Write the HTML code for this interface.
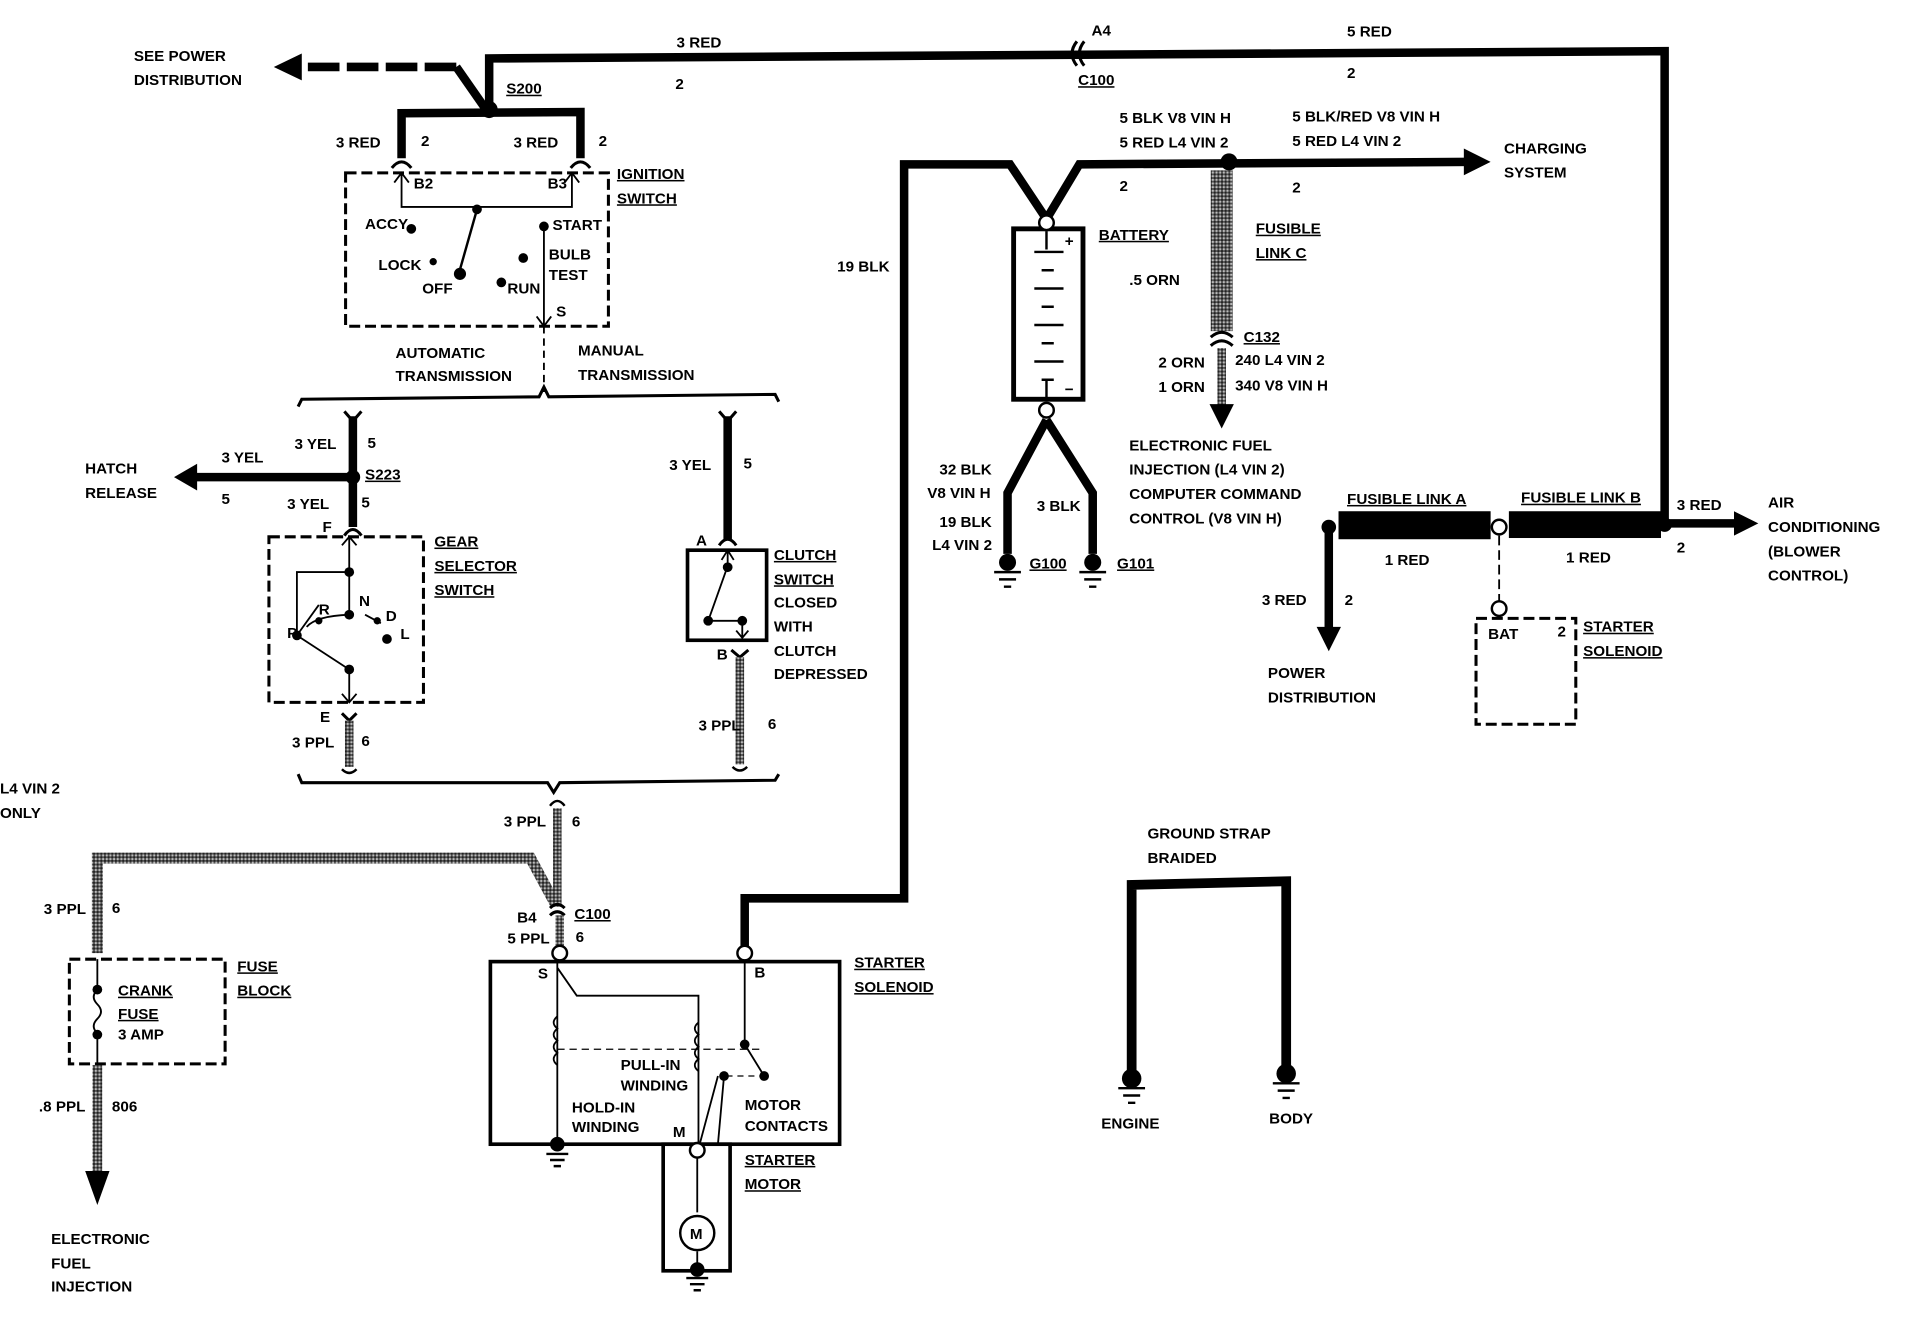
<!DOCTYPE html>
<html><head><meta charset="utf-8"><style>
html,body{margin:0;padding:0;background:#fff;}
svg{display:block;}
text{font-family:"Liberation Sans",sans-serif;font-weight:bold;font-size:12.5px;fill:#000;}
.u{text-decoration:underline;}
</style></head><body>
<svg width="1908" height="1328" viewBox="0 0 1568 1091" preserveAspectRatio="none" xmlns="http://www.w3.org/2000/svg">
<defs>
<pattern id="br" width="3" height="3" patternUnits="userSpaceOnUse"><rect width="3" height="3" fill="#555"/><rect width="1.5" height="1.5" fill="#bbb"/><rect x="1.5" y="1.5" width="1.5" height="1.5" fill="#222"/></pattern>
</defs>
<g fill="none" stroke="#000">
<path d="M402,90 L402,48 L1368,42 L1368,432" stroke-width="7"/>
<path d="M885,34 q-8,10 0,20 M891,34 q-8,10 0,20" stroke-width="2.5"/>
<path d="M398,88 L375,55" stroke-width="7"/>
<path d="M375,55 L245,55" stroke-width="7" stroke-dasharray="26,6"/>
<path d="M330,130 L330,93 L477,92 L477,130" stroke-width="7"/>
<path d="M322,138 q8,-10 16,0 M469,138 q8,-10 16,0" stroke-width="2.5"/>
<rect x="284" y="142" width="216" height="126" stroke-width="2.5" stroke-dasharray="9,4"/>
<path d="M330,142 L330,170 L470,170 L470,142 M324,150 L330,142 L336,150 M464,150 L470,142 L476,150" stroke-width="1.5"/>
<path d="M392,172 L377,225" stroke-width="2"/>
<path d="M447,186 L447,268 M441,260 L447,268 L453,260" stroke-width="1.5"/>
<path d="M447,268 L447,322" stroke-width="1.5" stroke-dasharray="6,4"/>
<path d="M245,334 L248,328 L443,326 L447,318 L451,326 L637,324 L640,330" stroke-width="2.5"/>
<path d="M290,342 L290,433" stroke-width="7"/>
<path d="M283,338 l7,8 l7,-8 M283,440 q7,-10 14,0" stroke-width="2.5"/>
<path d="M290,392 L160,392" stroke-width="7"/>
<rect x="221" y="441" width="127" height="136" stroke-width="2.5" stroke-dasharray="9,4"/>
<path d="M287,441 L287,470 M281,448 L287,441 L293,448 M287,470 L244,470 L244,520 M287,470 L287,505 M287,550 L287,577 M281,570 L287,577 L293,570 M244,522 L287,550 M244,522 L262,497 M300,505 L313,512 M287,505 Q260,506 252,515" stroke-width="1.5"/>
<path d="M281,586 l6,6 l6,-6" stroke-width="2.5"/>
<path d="M598,342 L598,443" stroke-width="7"/>
<path d="M591,338 l7,8 l7,-8 M591,448 q7,-10 14,0" stroke-width="2.5"/>
<rect x="565" y="452" width="65" height="74" stroke-width="3"/>
<path d="M598,452 L598,465 M593,460 L598,452 L603,460 M598,465 L582,510 M582,510 L610,510 M610,510 L610,524 M605,518 L610,524 L615,518" stroke-width="1.5"/>
<path d="M601,534 l7,6 l7,-6" stroke-width="2.5"/>
<path d="M245,636 L248,643 L450,643 L455,651 L460,643 L637,641 L640,636" stroke-width="2.5"/>
<path d="M80,783 L80,705 L436,705 L456,742" stroke-width="9" stroke="url(#br)"/>
<path d="M458,664 L458,745" stroke-width="7" stroke="url(#br)"/>
<path d="M452,662 q6,-8 12,0" stroke-width="2"/>
<path d="M452,746 q6,-6 12,0 M452,752 q6,-6 12,0" stroke-width="2.5"/>
<path d="M460,752 L460,778" stroke-width="7" stroke="url(#br)"/>
<path d="M287,592 L287,630" stroke-width="7" stroke="url(#br)"/>
<path d="M281,632 q6,6 12,0" stroke-width="2"/>
<path d="M608,540 L608,628" stroke-width="7" stroke="url(#br)"/>
<path d="M602,630 q6,6 12,0" stroke-width="2"/>
<rect x="57" y="788" width="128" height="86" stroke-width="2.5" stroke-dasharray="9,4"/>
<path d="M80,788 L80,813 M80,850 L80,874 M80,813 q-6,6 0,12 q6,6 0,12 q-6,6 0,12" stroke-width="1.5"/>
<path d="M80,875 L80,962" stroke-width="8" stroke="url(#br)"/>
<rect x="403" y="790" width="287" height="150" stroke-width="3"/>
<path d="M458,790 L458,940 M458,795 L474,818 L574,818 L574,940" stroke-width="1.5"/>
<path d="M612,790 L612,858 M612,858 L628,884 M595,884 L590,940 M590,884 L575,940" stroke-width="1.5"/>
<path d="M458,862 L628,862" stroke-width="1" stroke-dasharray="6,4"/>
<path d="M597,884 L628,884" stroke-width="1" stroke-dasharray="5,4"/>
<path d="M458,835 q-6,5 0,10 q-6,5 0,10 q-6,5 0,10 q-6,5 0,10" stroke-width="1.5"/>
<path d="M574,840 q-6,5 0,10 q-6,5 0,10 q-6,5 0,10 q-6,5 0,10" stroke-width="1.5"/>
<rect x="545" y="940" width="55" height="104" stroke-width="3"/>
<path d="M573,950 L573,996 M573,1028 L573,1040" stroke-width="1.5"/>
<circle cx="573" cy="1013" r="14" stroke-width="2"/>
<path d="M612,780 L612,738 L743,738 L743,135 L830,135 L860,180 L887,135 L1208,133" stroke-width="7"/>
<rect x="833" y="188" width="57" height="140" stroke-width="4"/>
<path d="M860,190 L860,205 M850,207 L874,207 M856,222 L866,222 M850,237 L874,237 M856,252 L866,252 M850,267 L874,267 M856,282 L866,282 M850,297 L874,297 M856,312 L866,312 M860,312 L860,328" stroke-width="2"/>
<path d="M860,345 L828,405 L828,455 M860,345 L898,405 L898,455" stroke-width="7"/>
<path d="M1004,140 L1004,272" stroke-width="18" stroke="url(#br)"/>
<path d="M1004,286 L1004,336" stroke-width="7" stroke="url(#br)"/>
<path d="M995,277 q9,-8 18,0 M995,284 q9,-8 18,0" stroke-width="2.5"/>
<path d="M1092,433 L1092,520" stroke-width="7"/>
<path d="M1232,440 L1232,495" stroke-width="1.5" stroke-dasharray="8,4"/>
<rect x="1213" y="508" width="82" height="87" stroke-width="2.5" stroke-dasharray="9,4"/>
<path d="M1368,430 L1428,430" stroke-width="7"/>
<path d="M930,880 L930,727 L1057,724 L1057,877" stroke-width="8"/>
</g>
<g fill="#000" stroke="none">
<polygon points="225,55 248,44 248,66"/>
<polygon points="143,392 162,381 162,403"/>
<polygon points="1225,133 1203,122 1203,144"/>
<polygon points="1004,352 994,332 1014,332"/>
<polygon points="1092,535 1082,515 1102,515"/>
<polygon points="1445,430 1425,420 1425,440"/>
<polygon points="80,990 70,962 90,962"/>
<rect x="1100" y="420" width="125" height="23"/>
<rect x="1240" y="420" width="125" height="22"/>
<circle cx="402" cy="90" r="7"/>
<circle cx="290" cy="392" r="6"/>
<circle cx="1010" cy="133" r="7"/>
<circle cx="1092" cy="433" r="6"/>
<circle cx="1368" cy="431" r="6"/>
<circle cx="392" cy="172" r="4"/><circle cx="338" cy="188" r="4"/><circle cx="447" cy="186" r="4"/><circle cx="378" cy="225" r="5"/><circle cx="356" cy="215" r="3"/><circle cx="430" cy="212" r="4"/><circle cx="412" cy="232" r="4"/>
<circle cx="287" cy="470" r="4"/><circle cx="287" cy="505" r="4"/><circle cx="244" cy="522" r="4"/><circle cx="287" cy="550" r="4"/><circle cx="262" cy="510" r="3"/><circle cx="310" cy="510" r="3"/><circle cx="318" cy="525" r="4"/>
<circle cx="598" cy="466" r="4"/><circle cx="582" cy="510" r="4"/><circle cx="610" cy="510" r="4"/>
<circle cx="80" cy="813" r="4"/><circle cx="80" cy="850" r="4"/>
<circle cx="612" cy="858" r="4"/><circle cx="628" cy="884" r="4"/><circle cx="595" cy="884" r="4"/>
<circle cx="458" cy="940" r="6"/><circle cx="573" cy="1043" r="6"/>
<circle cx="828" cy="462" r="7"/><circle cx="898" cy="462" r="7"/>
<circle cx="930" cy="886" r="8"/><circle cx="1057" cy="882" r="8"/>
</g>
<g fill="#fff" stroke="#000" stroke-width="2">
<circle cx="860" cy="183" r="6"/><circle cx="860" cy="337" r="6"/>
<circle cx="460" cy="783" r="6"/><circle cx="612" cy="783" r="6"/><circle cx="573" cy="945" r="6"/>
<circle cx="1232" cy="433" r="6"/><circle cx="1232" cy="500" r="6"/>
</g>
<g stroke="#000" stroke-width="2">
<path d="M449,948 h18 M452,953 h12 M455,958 h6"/>
<path d="M564,1050 h18 M567,1055 h12 M570,1060 h6"/>
<path d="M817,470 h22 M821,476 h14 M825,482 h6"/>
<path d="M887,470 h22 M891,476 h14 M895,482 h6"/>
<path d="M919,894 h22 M923,900 h14 M927,906 h6"/>
<path d="M1046,890 h22 M1050,896 h14 M1054,902 h6"/>
</g>
<text x="110" y="50">SEE POWER</text>
<text x="110" y="70">DISTRIBUTION</text>
<text x="556" y="39">3 RED</text>
<text x="555" y="73">2</text>
<text x="897" y="29">A4</text>
<text x="886" y="70" class="u">C100</text>
<text x="1107" y="30">5 RED</text>
<text x="1107" y="64">2</text>
<text x="416" y="77" class="u">S200</text>
<text x="276" y="121">3 RED</text><text x="346" y="120">2</text>
<text x="422" y="121">3 RED</text><text x="492" y="120">2</text>
<text x="507" y="147" class="u">IGNITION</text>
<text x="507" y="167" class="u">SWITCH</text>
<text x="340" y="155" font-size="10">B2</text><text x="450" y="155" font-size="10">B3</text>
<text x="300" y="188" font-size="11">ACCY</text>
<text x="454" y="189" font-size="11">START</text>
<text x="311" y="222" font-size="11">LOCK</text>
<text x="347" y="241" font-size="11">OFF</text>
<text x="417" y="241" font-size="11">RUN</text>
<text x="451" y="213" font-size="11">BULB</text>
<text x="451" y="230" font-size="11">TEST</text>
<text x="457" y="260" font-size="10">S</text>
<text x="325" y="294">AUTOMATIC</text>
<text x="325" y="313">TRANSMISSION</text>
<text x="475" y="292">MANUAL</text>
<text x="475" y="312">TRANSMISSION</text>
<text x="242" y="369">3 YEL</text><text x="302" y="368">5</text>
<text x="182" y="380">3 YEL</text>
<text x="70" y="389">HATCH</text>
<text x="70" y="409">RELEASE</text>
<text x="182" y="414">5</text>
<text x="300" y="394" class="u">S223</text>
<text x="236" y="418">3 YEL</text><text x="297" y="417">5</text>
<text x="265" y="437">F</text>
<text x="357" y="449" class="u">GEAR</text>
<text x="357" y="469" class="u">SELECTOR</text>
<text x="357" y="489" class="u">SWITCH</text>
<text x="262" y="505" font-size="10">R</text><text x="295" y="498" font-size="10">N</text>
<text x="236" y="524" font-size="10">P</text><text x="317" y="510" font-size="10">D</text><text x="329" y="525" font-size="10">L</text>
<text x="263" y="593" font-size="11">E</text>
<text x="240" y="614">3 PPL</text><text x="297" y="613">6</text>
<text x="550" y="386">3 YEL</text><text x="611" y="385">5</text>
<text x="572" y="448">A</text>
<text x="636" y="460" class="u">CLUTCH</text>
<text x="636" y="480" class="u">SWITCH</text>
<text x="636" y="499">CLOSED</text>
<text x="636" y="519">WITH</text>
<text x="636" y="539">CLUTCH</text>
<text x="636" y="558">DEPRESSED</text>
<text x="589" y="542">B</text>
<text x="574" y="600">3 PPL</text><text x="631" y="599">6</text>
<text x="0" y="652">L4 VIN 2</text>
<text x="0" y="672">ONLY</text>
<text x="414" y="679">3 PPL</text><text x="470" y="679">6</text>
<text x="36" y="751">3 PPL</text><text x="92" y="750">6</text>
<text x="425" y="758">B4</text>
<text x="472" y="755" class="u">C100</text>
<text x="417" y="775">5 PPL</text><text x="473" y="774">6</text>
<text x="195" y="798" class="u">FUSE</text>
<text x="195" y="818" class="u">BLOCK</text>
<text x="97" y="818" class="u">CRANK</text>
<text x="97" y="837" class="u">FUSE</text>
<text x="97" y="854" font-size="10">3 AMP</text>
<text x="32" y="913">.8 PPL</text><text x="92" y="913">806</text>
<text x="42" y="1022">ELECTRONIC</text>
<text x="42" y="1042">FUEL</text>
<text x="42" y="1061">INJECTION</text>
<text x="442" y="804" font-size="10">S</text><text x="620" y="803" font-size="10">B</text>
<text x="702" y="795" class="u">STARTER</text>
<text x="702" y="815" class="u">SOLENOID</text>
<text x="510" y="879" font-size="10">PULL-IN</text>
<text x="510" y="896" font-size="10">WINDING</text>
<text x="470" y="914" font-size="10">HOLD-IN</text>
<text x="470" y="930" font-size="10">WINDING</text>
<text x="553" y="934" font-size="10">M</text>
<text x="612" y="912" font-size="11">MOTOR</text>
<text x="612" y="929" font-size="11">CONTACTS</text>
<text x="612" y="957" class="u">STARTER</text>
<text x="612" y="977" class="u">MOTOR</text>
<text x="567" y="1018" font-size="11">M</text>
<text x="688" y="223">19 BLK</text>
<text x="920" y="101">5 BLK  V8 VIN H</text>
<text x="920" y="121">5 RED  L4 VIN 2</text>
<text x="1062" y="100">5 BLK/RED  V8 VIN H</text>
<text x="1062" y="120">5 RED  L4 VIN 2</text>
<text x="1236" y="126">CHARGING</text>
<text x="1236" y="146">SYSTEM</text>
<text x="920" y="157">2</text><text x="1062" y="158">2</text>
<text x="903" y="197" class="u">BATTERY</text>
<text x="875" y="202" font-size="13">+</text>
<text x="875" y="324" font-size="13">−</text>
<text x="1032" y="192" class="u">FUSIBLE</text>
<text x="1032" y="212" class="u">LINK C</text>
<text x="928" y="234">.5 ORN</text>
<text x="1022" y="281" class="u">C132</text>
<text x="952" y="302">2 ORN</text><text x="1015" y="300">240   L4 VIN 2</text>
<text x="952" y="322">1 ORN</text><text x="1015" y="321">340   V8 VIN H</text>
<text x="928" y="370">ELECTRONIC FUEL</text>
<text x="928" y="390">INJECTION (L4 VIN 2)</text>
<text x="928" y="410">COMPUTER COMMAND</text>
<text x="928" y="430">CONTROL (V8 VIN H)</text>
<text x="772" y="390">32 BLK</text>
<text x="762" y="409">V8 VIN H</text>
<text x="852" y="420">3 BLK</text>
<text x="772" y="433">19 BLK</text>
<text x="766" y="452">L4 VIN 2</text>
<text x="846" y="467" class="u">G100</text>
<text x="918" y="467" class="u">G101</text>
<text x="1107" y="414" class="u">FUSIBLE LINK A</text>
<text x="1250" y="413" class="u">FUSIBLE LINK B</text>
<text x="1138" y="464">1 RED</text>
<text x="1287" y="462">1 RED</text>
<text x="1378" y="419">3 RED</text>
<text x="1378" y="454">2</text>
<text x="1453" y="417">AIR</text>
<text x="1453" y="437">CONDITIONING</text>
<text x="1453" y="457">(BLOWER</text>
<text x="1453" y="477">CONTROL)</text>
<text x="1037" y="497">3 RED</text><text x="1105" y="497">2</text>
<text x="1042" y="557">POWER</text>
<text x="1042" y="577">DISTRIBUTION</text>
<text x="1223" y="525" font-size="10">BAT</text><text x="1280" y="523" font-size="10">2</text>
<text x="1301" y="519" class="u">STARTER</text>
<text x="1301" y="539" class="u">SOLENOID</text>
<text x="943" y="689">GROUND STRAP</text>
<text x="943" y="709">BRAIDED</text>
<text x="905" y="927">ENGINE</text>
<text x="1043" y="923">BODY</text>
</svg>
</body></html>
